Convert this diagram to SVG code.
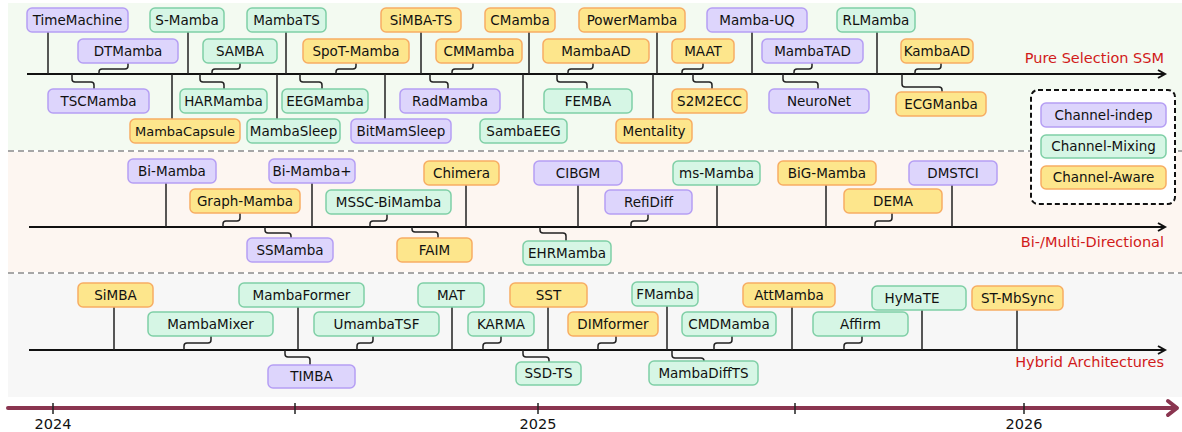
<svg xmlns="http://www.w3.org/2000/svg" width="1182" height="432" viewBox="0 0 1182 432">
  <style>
    .band-top { fill: #f3faf1; }
    .band-mid { fill: #fdf6f1; }
    .band-bot { fill: #f7f7f7; }
    .sep { stroke: #8a8a8a; stroke-width: 1.5; stroke-dasharray: 6 4; fill: none; }
    .axis { stroke: #111; stroke-width: 2; fill: none; }
    .conn { stroke: #222; stroke-width: 1.5; fill: none; stroke-linejoin: round; }
    .p rect { fill: #ddd5fc; stroke: #b59ef4; stroke-width: 1.5; }
    .g rect { fill: #d6f6e5; stroke: #7fcfa6; stroke-width: 1.5; }
    .o rect { fill: #fde68c; stroke: #f7ad63; stroke-width: 1.5; }
    text { font-family: "DejaVu Sans", "Liberation Sans", sans-serif; }
    .lbl { font-size: 13.5px; fill: #111; text-anchor: middle; }
    .lbl.tight { font-size: 13px; }
    .cat { font-size: 14.5px; fill: #d11a1a; text-anchor: end; }
    .year { font-size: 14.5px; fill: #111; text-anchor: middle; }
    .legend-frame { fill: #ffffff; stroke: #111; stroke-width: 2; stroke-dasharray: 5 3; }
    .time { stroke: #8a3550; stroke-width: 4; fill: none; stroke-linecap: round; stroke-linejoin: round; }
    .tick { stroke: #222; stroke-width: 1.5; }
  </style>

  <!-- category bands -->
  <g id="bands">
    <rect class="band-top" x="8" y="3" width="1174" height="147"/>
    <rect class="band-mid" x="8" y="152" width="1174" height="120"/>
    <rect class="band-bot" x="8" y="274" width="1174" height="123"/>
    <line class="sep" x1="8" y1="151" x2="1182" y2="151"/>
    <line class="sep" x1="8" y1="273" x2="1182" y2="273"/>
  </g>

  <!-- per-category axes -->
  <g id="axes">
    <line class="axis" x1="27" y1="74" x2="1165" y2="74"/>
    <path class="axis" d="M1158,70 L1165,74 L1158,78"/>
    <line class="axis" x1="29" y1="227" x2="1165" y2="227"/>
    <path class="axis" d="M1158,223 L1165,227 L1158,231"/>
    <line class="axis" x1="29" y1="350" x2="1165" y2="350"/>
    <path class="axis" d="M1158,346 L1165,350 L1158,354"/>
    <text class="cat" x="1164" y="63">Pure Selection SSM</text>
    <text class="cat" x="1164" y="247">Bi-/Multi-Directional</text>
    <text class="cat" x="1164" y="367">Hybrid Architectures</text>
  </g>

  <!-- connectors from each method to its axis -->
  <g id="connectors">
    <!-- Pure Selection SSM: straight stems above -->
    <path class="conn" d="M48,32 V74 M188,32 V74 M286,32 V74 M421,32 V74 M529,32 V74 M657,32 V74 M752,32 V74 M877,32 V74"/>
    <!-- Pure Selection SSM: elbows above -->
    <path class="conn" d="M128,63 V66 Q128,69 125,69 H102 Q99,69 99,72 V74"/>
    <path class="conn" d="M240,63 V66 Q240,69 237,69 H215 Q212,69 212,72 V74"/>
    <path class="conn" d="M356,63 V66 Q356,69 353,69 H339 Q336,69 336,72 V74"/>
    <path class="conn" d="M473,63 V66 Q473,69 470,69 H455 Q452,69 452,72 V74"/>
    <path class="conn" d="M593,63 V66 Q593,69 590,69 H571 Q568,69 568,72 V74"/>
    <path class="conn" d="M703,63 V66 Q703,69 700,69 H685 Q682,69 682,72 V74"/>
    <path class="conn" d="M812,63 V66 Q812,69 809,69 H797 Q794,69 794,72 V74"/>
    <path class="conn" d="M941,63 V66 Q941,69 938,69 H918 Q915,69 915,72 V74"/>
    <!-- Pure Selection SSM: elbows below -->
    <path class="conn" d="M72,74 V79 Q72,82 75,82 H91 Q94,82 94,85 V89"/>
    <path class="conn" d="M200,74 V79 Q200,82 203,82 H221 Q224,82 224,85 V89"/>
    <path class="conn" d="M300,74 V79 Q300,82 303,82 H319 Q322,82 322,85 V89"/>
    <path class="conn" d="M430,74 V79 Q430,82 433,82 H445 Q448,82 448,85 V89"/>
    <path class="conn" d="M557,74 V79 Q557,82 560,82 H584 Q587,82 587,85 V89"/>
    <path class="conn" d="M693,74 V79 Q693,82 696,82 H709 Q712,82 712,85 V89"/>
    <path class="conn" d="M783,74 V79 Q783,82 786,82 H815 Q818,82 818,85 V89"/>
    <path class="conn" d="M902,74 V84 Q902,87 905,87 H939 Q942,87 942,90 V92"/>
    <!-- Pure Selection SSM: straight stems below -->
    <path class="conn" d="M172,74 V119 M277,74 V119 M385,74 V119 M523,74 V119 M653,74 V119"/>

    <!-- Bi-/Multi-Directional -->
    <path class="conn" d="M166,183 V227 M312,183 V227 M466,185 V227 M578,185 V227 M717,185 V227 M826,185 V227 M952,185 V227"/>
    <path class="conn" d="M240,213 V218 Q240,221 237,221 H226 Q223,221 223,224 V227"/>
    <path class="conn" d="M387,214 V218 Q387,221 384,221 H373 Q370,221 370,224 V227"/>
    <path class="conn" d="M648,214 V218 Q648,221 645,221 H634 Q631,221 631,224 V227"/>
    <path class="conn" d="M892,213 V218 Q892,221 889,221 H878 Q875,221 875,224 V227"/>
    <path class="conn" d="M265,227 V230 Q265,233 268,233 H288 Q291,233 291,236 V238"/>
    <path class="conn" d="M412,227 V229 Q412,232 415,232 H435 Q438,232 438,235 V238"/>
    <path class="conn" d="M540,227 V230 Q540,233 543,233 H563 Q566,233 566,236 V241"/>

    <!-- Hybrid Architectures -->
    <path class="conn" d="M114,307 V350 M298,307 V350 M452,307 V350 M548,307 V350 M667,306 V350 M792,307 V350 M922,310 V350 M1017,310 V350"/>
    <path class="conn" d="M211,336 V340 Q211,343 208,343 H187 Q184,343 184,346 V350"/>
    <path class="conn" d="M373,336 V340 Q373,343 370,343 H360 Q357,343 357,346 V350"/>
    <path class="conn" d="M501,336 V340 Q501,343 498,343 H486 Q483,343 483,346 V350"/>
    <path class="conn" d="M616,336 V340 Q616,343 613,343 H601 Q598,343 598,346 V350"/>
    <path class="conn" d="M732,336 V340 Q732,343 729,343 H717 Q714,343 714,346 V350"/>
    <path class="conn" d="M862,336 V340 Q862,343 859,343 H847 Q844,343 844,346 V350"/>
    <path class="conn" d="M285,350 V354 Q285,357 288,357 H307 Q310,357 310,360 V365"/>
    <path class="conn" d="M523,350 V354 Q523,357 526,357 H546 Q549,357 549,360 V362"/>
    <path class="conn" d="M672,350 V355 Q672,358 675,358 H701 Q704,358 704,361 V361"/>
  </g>

  <!-- Pure Selection SSM methods -->
  <g id="n-timemachine" class="p"><rect x="27" y="8" width="101" height="24" rx="5"/><text class="lbl" x="77.5" y="24.8">TimeMachine</text></g>
  <g id="n-s-mamba" class="g"><rect x="150" y="8" width="74" height="24" rx="5"/><text class="lbl" x="187" y="24.8">S-Mamba</text></g>
  <g id="n-mambats" class="g"><rect x="247" y="8" width="79" height="24" rx="5"/><text class="lbl" x="286.5" y="24.8">MambaTS</text></g>
  <g id="n-simba-ts" class="o"><rect x="381" y="8" width="80" height="24" rx="5"/><text class="lbl" x="421" y="24.8">SiMBA-TS</text></g>
  <g id="n-cmamba" class="o"><rect x="485" y="8" width="70" height="24" rx="5"/><text class="lbl" x="520" y="24.8">CMamba</text></g>
  <g id="n-powermamba" class="o"><rect x="579" y="8" width="106" height="24" rx="5"/><text class="lbl" x="632" y="24.8">PowerMamba</text></g>
  <g id="n-mamba-uq" class="p"><rect x="707" y="8" width="100" height="24" rx="5"/><text class="lbl" x="757" y="24.8">Mamba-UQ</text></g>
  <g id="n-rlmamba" class="g"><rect x="837" y="8" width="78" height="24" rx="5"/><text class="lbl" x="876" y="24.8">RLMamba</text></g>

  <g id="n-dtmamba" class="p"><rect x="78" y="39" width="100" height="24" rx="5"/><text class="lbl" x="128" y="55.8">DTMamba</text></g>
  <g id="n-samba" class="g"><rect x="203" y="39" width="74" height="24" rx="5"/><text class="lbl" x="240" y="55.8">SAMBA</text></g>
  <g id="n-spot-mamba" class="o"><rect x="303" y="39" width="106" height="24" rx="5"/><text class="lbl" x="356" y="55.8">SpoT-Mamba</text></g>
  <g id="n-cmmamba" class="o"><rect x="436" y="39" width="86" height="24" rx="5"/><text class="lbl" x="479" y="55.8">CMMamba</text></g>
  <g id="n-mambaad" class="o"><rect x="543" y="39" width="106" height="24" rx="5"/><text class="lbl" x="596" y="55.8">MambaAD</text></g>
  <g id="n-maat" class="o"><rect x="672" y="39" width="62" height="24" rx="5"/><text class="lbl" x="703" y="55.8">MAAT</text></g>
  <g id="n-mambatad" class="p"><rect x="762" y="39" width="101" height="24" rx="5"/><text class="lbl" x="812.5" y="55.8">MambaTAD</text></g>
  <g id="n-kambaad" class="o"><rect x="901" y="39" width="72" height="24" rx="5"/><text class="lbl" x="937" y="55.8">KambaAD</text></g>

  <g id="n-tscmamba" class="p"><rect x="48" y="89" width="101" height="24" rx="5"/><text class="lbl" x="98.5" y="105.8">TSCMamba</text></g>
  <g id="n-harmamba" class="g"><rect x="180" y="89" width="87" height="24" rx="5"/><text class="lbl" x="223.5" y="105.8">HARMamba</text></g>
  <g id="n-eegmamba" class="g"><rect x="282" y="89" width="86" height="24" rx="5"/><text class="lbl" x="325" y="105.8">EEGMamba</text></g>
  <g id="n-radmamba" class="p"><rect x="400" y="89" width="100" height="24" rx="5"/><text class="lbl" x="450" y="105.8">RadMamba</text></g>
  <g id="n-femba" class="g"><rect x="544" y="89" width="88" height="24" rx="5"/><text class="lbl" x="588" y="105.8">FEMBA</text></g>
  <g id="n-s2m2ecc" class="o"><rect x="672" y="89" width="75" height="24" rx="5"/><text class="lbl" x="709.5" y="105.8">S2M2ECC</text></g>
  <g id="n-neuronet" class="p"><rect x="769" y="89" width="100" height="24" rx="5"/><text class="lbl" x="819" y="105.8">NeuroNet</text></g>
  <g id="n-ecgmanba" class="o"><rect x="896" y="92" width="90" height="24" rx="5"/><text class="lbl" x="941" y="108.8">ECGManba</text></g>

  <g id="n-mambacapsule" class="o"><rect x="130" y="119" width="110" height="24" rx="5"/><text class="lbl tight" x="185" y="135.5">MambaCapsule</text></g>
  <g id="n-mambasleep" class="g"><rect x="247" y="119" width="93" height="24" rx="5"/><text class="lbl" x="293.5" y="135.8">MambaSleep</text></g>
  <g id="n-bitmamsleep" class="p"><rect x="351" y="119" width="100" height="24" rx="5"/><text class="lbl" x="401" y="135.8">BitMamSleep</text></g>
  <g id="n-sambaeeg" class="g"><rect x="480" y="119" width="87" height="24" rx="5"/><text class="lbl" x="523.5" y="135.8">SambaEEG</text></g>
  <g id="n-mentality" class="o"><rect x="616" y="119" width="76" height="24" rx="5"/><text class="lbl" x="654" y="135.8">Mentality</text></g>

  <!-- legend -->
  <g id="legend">
    <rect class="legend-frame" x="1031" y="90" width="144" height="114" rx="7"/>
    <g class="p"><rect x="1041" y="103" width="125" height="24" rx="5"/><text class="lbl" x="1103.5" y="119.8">Channel-indep</text></g>
    <g class="g"><rect x="1041" y="135" width="125" height="23" rx="5"/><text class="lbl" x="1103.5" y="151.3">Channel-Mixing</text></g>
    <g class="o"><rect x="1041" y="166" width="125" height="23" rx="5"/><text class="lbl" x="1103.5" y="182.3">Channel-Aware</text></g>
  </g>

  <!-- Bi-/Multi-Directional methods -->
  <g id="n-bi-mamba" class="p"><rect x="128" y="159" width="88" height="24" rx="5"/><text class="lbl" x="172" y="175.8">Bi-Mamba</text></g>
  <g id="n-bi-mamba-plus" class="p"><rect x="269" y="159" width="86" height="24" rx="5"/><text class="lbl" x="312" y="175.8">Bi-Mamba+</text></g>
  <g id="n-chimera" class="o"><rect x="424" y="161" width="75" height="24" rx="5"/><text class="lbl" x="461.5" y="177.8">Chimera</text></g>
  <g id="n-cibgm" class="p"><rect x="534" y="161" width="88" height="24" rx="5"/><text class="lbl" x="578" y="177.8">CIBGM</text></g>
  <g id="n-ms-mamba" class="g"><rect x="673" y="161" width="87" height="24" rx="5"/><text class="lbl" x="716.5" y="177.8">ms-Mamba</text></g>
  <g id="n-big-mamba" class="o"><rect x="778" y="161" width="98" height="24" rx="5"/><text class="lbl" x="827" y="177.8">BiG-Mamba</text></g>
  <g id="n-dmstci" class="p"><rect x="909" y="161" width="88" height="24" rx="5"/><text class="lbl" x="953" y="177.8">DMSTCI</text></g>

  <g id="n-graph-mamba" class="o"><rect x="190" y="189" width="110" height="24" rx="5"/><text class="lbl" x="245" y="205.8">Graph-Mamba</text></g>
  <g id="n-mssc-bimamba" class="g"><rect x="326" y="190" width="125" height="24" rx="5"/><text class="lbl" x="388.5" y="206.8">MSSC-BiMamba</text></g>
  <g id="n-refidiff" class="p"><rect x="605" y="190" width="87" height="24" rx="5"/><text class="lbl" x="648.5" y="206.8">RefiDiff</text></g>
  <g id="n-dema" class="o"><rect x="844" y="189" width="98" height="24" rx="5"/><text class="lbl" x="893" y="205.8">DEMA</text></g>

  <g id="n-ssmamba" class="p"><rect x="247" y="238" width="86" height="24" rx="5"/><text class="lbl" x="290" y="254.8">SSMamba</text></g>
  <g id="n-faim" class="o"><rect x="397" y="238" width="75" height="24" rx="5"/><text class="lbl" x="434.5" y="254.8">FAIM</text></g>
  <g id="n-ehrmamba" class="g"><rect x="523" y="241" width="88" height="24" rx="5"/><text class="lbl" x="567" y="257.8">EHRMamba</text></g>

  <!-- Hybrid Architectures methods -->
  <g id="n-simba" class="o"><rect x="78" y="283" width="75" height="24" rx="5"/><text class="lbl" x="115.5" y="299.8">SiMBA</text></g>
  <g id="n-mambaformer" class="g"><rect x="239" y="283" width="125" height="24" rx="5"/><text class="lbl" x="301.5" y="299.8">MambaFormer</text></g>
  <g id="n-mat" class="g"><rect x="418" y="283" width="66" height="24" rx="5"/><text class="lbl" x="451" y="299.8">MAT</text></g>
  <g id="n-sst" class="o"><rect x="510" y="283" width="77" height="24" rx="5"/><text class="lbl" x="548.5" y="299.8">SST</text></g>
  <g id="n-fmamba" class="g"><rect x="632" y="282" width="66" height="24" rx="5"/><text class="lbl" x="665" y="298.8">FMamba</text></g>
  <g id="n-attmamba" class="o"><rect x="743" y="283" width="92" height="24" rx="5"/><text class="lbl" x="789" y="299.8">AttMamba</text></g>
  <g id="n-hymate" class="g"><rect x="872" y="286" width="94" height="24" rx="5"/><text class="lbl" x="912" y="302.8">HyMaTE</text></g>
  <g id="n-st-mbsync" class="o"><rect x="972" y="286" width="91" height="24" rx="5"/><text class="lbl" x="1017.5" y="302.8">ST-MbSync</text></g>

  <g id="n-mambamixer" class="g"><rect x="148" y="312" width="125" height="24" rx="5"/><text class="lbl" x="210.5" y="328.8">MambaMixer</text></g>
  <g id="n-umambatsf" class="g"><rect x="314" y="312" width="125" height="24" rx="5"/><text class="lbl" x="376.5" y="328.8">UmambaTSF</text></g>
  <g id="n-karma" class="g"><rect x="468" y="312" width="66" height="24" rx="5"/><text class="lbl" x="501" y="328.8">KARMA</text></g>
  <g id="n-dimformer" class="o"><rect x="568" y="312" width="90" height="24" rx="5"/><text class="lbl" x="613" y="328.8">DIMformer</text></g>
  <g id="n-cmdmamba" class="g"><rect x="682" y="312" width="94" height="24" rx="5"/><text class="lbl" x="729" y="328.8">CMDMamba</text></g>
  <g id="n-affirm" class="g"><rect x="813" y="312" width="95" height="24" rx="5"/><text class="lbl" x="860.5" y="328.8">Affirm</text></g>

  <g id="n-timba" class="p"><rect x="268" y="365" width="87" height="23" rx="5"/><text class="lbl" x="311.5" y="381.3">TIMBA</text></g>
  <g id="n-ssd-ts" class="g"><rect x="516" y="362" width="65" height="23" rx="5"/><text class="lbl" x="548.5" y="378.3">SSD-TS</text></g>
  <g id="n-mambadiffts" class="g"><rect x="649" y="361" width="109" height="24" rx="5"/><text class="lbl" x="703.5" y="377.8">MambaDiffTS</text></g>

  <!-- calendar axis -->
  <g id="timeline">
    <line class="time" x1="8" y1="408" x2="1176" y2="408"/>
    <path class="time" d="M1168,401 L1177,408 L1168,415"/>
    <line class="tick" x1="53" y1="403" x2="53" y2="414"/>
    <line class="tick" x1="295" y1="403" x2="295" y2="414"/>
    <line class="tick" x1="538" y1="403" x2="538" y2="414"/>
    <line class="tick" x1="795" y1="403" x2="795" y2="414"/>
    <line class="tick" x1="1024" y1="403" x2="1024" y2="414"/>
    <text class="year" x="53" y="429">2024</text>
    <text class="year" x="538" y="429">2025</text>
    <text class="year" x="1024" y="429">2026</text>
  </g>
</svg>
